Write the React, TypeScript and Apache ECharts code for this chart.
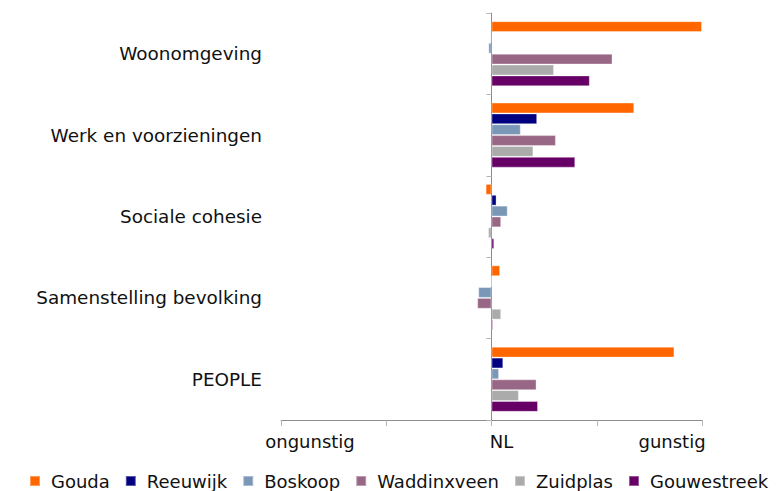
import React, { useEffect, useRef } from "react";
import * as echarts from "echarts";

const categories = [
  "Woonomgeving",
  "Werk en voorzieningen",
  "Sociale cohesie",
  "Samenstelling bevolking",
  "PEOPLE",
];

const seriesNames = ["Gouda", "Reeuwijk", "Boskoop", "Waddinxveen", "Zuidplas", "Gouwestreek"];
const seriesColors = ["#FF6600", "#000080", "#7A97B8", "#996786", "#ABABAB", "#660066"];

const gouda = [1.0, 0.678, -0.028, 0.041, 0.869];
const reeuwijk = [-0.005, 0.217, 0.024, 0.0, 0.056];
const boskoop = [-0.015, 0.139, 0.077, -0.063, 0.036];
const waddinxveen = [0.575, 0.306, 0.046, -0.068, 0.214];
const zuidplas = [0.297, 0.199, -0.016, 0.046, 0.13];
const gouwestreek = [0.467, 0.398, 0.013, 0.007, 0.221];

const seriesValues = [gouda, reeuwijk, boskoop, waddinxveen, zuidplas, gouwestreek];

const xTickValues = [-1, -0.5, 0, 0.5, 1];
const xTickLabels = ["ongunstig", "", "NL", "", "gunstig"];

export default function App() {
  const ref = useRef<HTMLDivElement>(null);

  useEffect(() => {
    document.body.style.margin = "0";
    if (!ref.current) return;
    const chart = echarts.init(ref.current, null, { renderer: "svg" });
    const font = "'DejaVu Sans', Verdana, sans-serif";
    const labelStyles = ["lo", "", "mid", "", "hi"];
    chart.setOption({
      animation: false,
      backgroundColor: "#ffffff",
      textStyle: { fontFamily: font },
      grid: { left: 281, right: 77, top: 13, bottom: 71, containLabel: false, outerBoundsMode: "none" },
      legend: {
        top: 472,
        left: 29,
        itemWidth: 10,
        itemHeight: 10,
        itemGap: 15,
        icon: "rect",
        padding: 0,
        textStyle: { fontSize: 18, color: "#111", fontFamily: font, padding: [0, 0, 0, 6] },
        data: seriesNames,
      },
      xAxis: {
        type: "value",
        min: -1,
        max: 1,
        interval: 0.5,
        splitLine: { show: false },
        axisLine: { show: true, lineStyle: { color: "#8c8c8c", width: 1 } },
        axisTick: { show: true, length: 6, lineStyle: { color: "#b5b5b5" } },
        axisLabel: {
          margin: 12,
          fontSize: 18,
          color: "#111",
          fontFamily: font,
          showMinLabel: true,
          showMaxLabel: true,
          formatter: (v: number) => {
            const i = xTickValues.findIndex((t) => Math.abs(t - v) < 1e-9);
            if (i < 0 || !xTickLabels[i]) return "";
            return "{" + labelStyles[i] + "|" + xTickLabels[i] + "}";
          },
          rich: {
            lo: { fontSize: 18, color: "#111", fontFamily: font, padding: [0, 0, 0, 58] },
            mid: { fontSize: 18, color: "#111", fontFamily: font, padding: [0, 0, 0, 20] },
            hi: { fontSize: 18, color: "#111", fontFamily: font, padding: [0, 60, 0, 0] },
          },
        },
      },
      yAxis: {
        type: "category",
        data: categories,
        inverse: true,
        axisLine: { show: true, onZero: true, lineStyle: { color: "#8c8c8c", width: 1 } },
        axisTick: { show: true, length: 5, lineStyle: { color: "#b5b5b5" } },
        axisLabel: { margin: 19, fontSize: 18.4, color: "#111", fontFamily: font },
      },
      series: seriesNames.map((name, i) => ({
        name,
        type: "bar",
        data: seriesValues[i],
        barGap: "0%",
        barCategoryGap: "20%",
        itemStyle: {
          color: seriesColors[i],
          borderColor: "rgba(255,255,255,0.35)",
          borderWidth: 1,
        },
      })),
    });
    return () => chart.dispose();
  }, []);

  return <div ref={ref} style={{ width: 779, height: 491 }} />;
}
